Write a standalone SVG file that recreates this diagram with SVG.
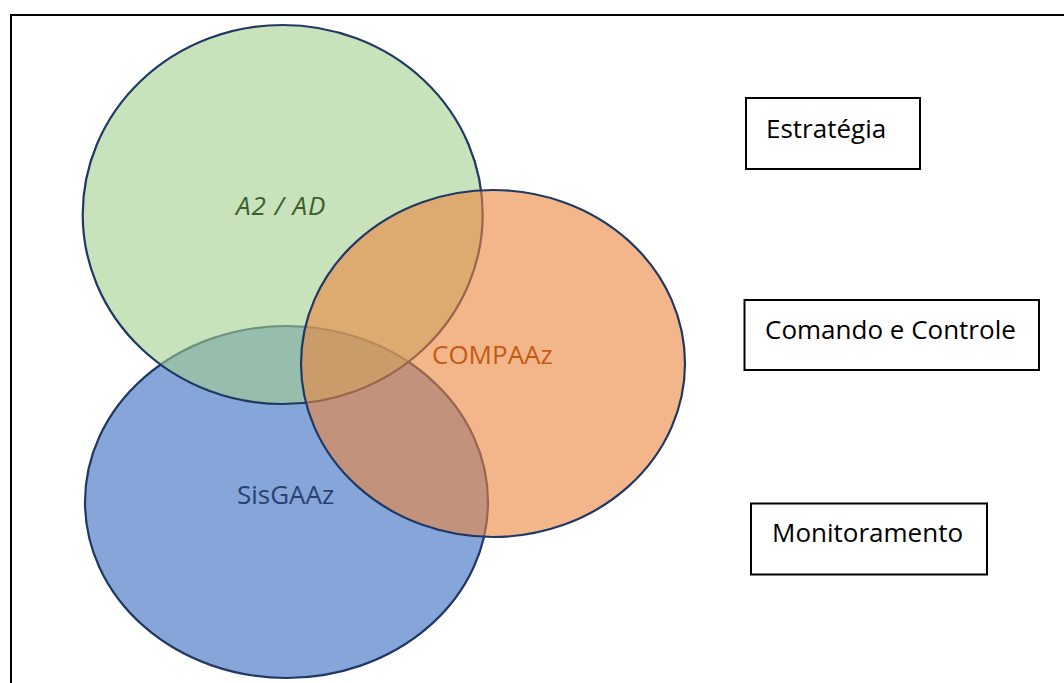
<svg xmlns="http://www.w3.org/2000/svg" width="1064" height="683" viewBox="0 0 1064 683">
  <style>
    .frame { stroke: #000; stroke-width: 2; fill: none; }
    .set { stroke: #1f3864; stroke-width: 2.2; fill-opacity: 0.6; }
    .lbl { font-family: "Open Sans", "Liberation Sans", sans-serif; font-size: 26px; }
    .box rect { fill: #fff; stroke: #000; stroke-width: 2; }
    .box text { fill: #000; }
  </style>
  <rect width="1064" height="683" fill="#fff"/>
  <!-- page frame (top and left rules) -->
  <g id="frame">
    <line class="frame" x1="10" y1="15" x2="1064" y2="15"/>
    <line class="frame" x1="11" y1="14" x2="11" y2="683"/>
  </g>
  <!-- overlapping sets, bottom to top -->
  <g id="sisgaaz">
    <ellipse class="set" cx="286.5" cy="502" rx="201.5" ry="176" fill="#3569c0"/>
  </g>
  <g id="a2ad">
    <ellipse class="set" cx="282.7" cy="214.5" rx="200" ry="189.5" fill="#a3cf8e"/>
  </g>
  <g id="compaaz">
    <ellipse class="set" cx="493" cy="363.5" rx="192" ry="173.5" fill="#eb853e"/>
  </g>
  <!-- set labels -->
  <g id="set-labels">
    <text class="lbl" x="236" y="215" fill="#3d5f2c" font-style="italic" font-size="27" letter-spacing="1">A2 / AD</text>
    <text class="lbl" x="432" y="364" fill="#c55a11">COMPAAz</text>
    <text class="lbl" x="237" y="504" fill="#2a4170">SisGAAz</text>
  </g>
  <!-- side boxes -->
  <g id="estrategia" class="box">
    <rect x="746" y="98" width="174" height="71"/>
    <text class="lbl" x="766" y="138">Estratégia</text>
  </g>
  <g id="comando-controle" class="box">
    <rect x="744.5" y="300" width="294.5" height="70"/>
    <text class="lbl" x="765" y="339">Comando e Controle</text>
  </g>
  <g id="monitoramento" class="box">
    <rect x="751" y="503.5" width="236" height="71"/>
    <text class="lbl" x="772" y="542">Monitoramento</text>
  </g>
  <g id="connectors"/>
</svg>
